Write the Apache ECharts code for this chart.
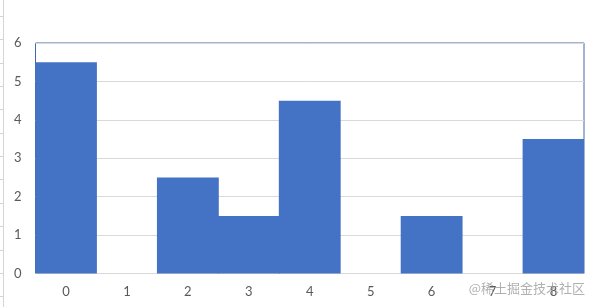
<!DOCTYPE html>
<html>
<head>
<meta charset="utf-8">
<script src="https://cdn.jsdelivr.net/npm/echarts@6/dist/echarts.min.js"></script>
<style>html,body{margin:0;padding:0;background:#fff;}#c{width:595px;height:307px;}</style>
</head>
<body>
<div id="c"></div>
<script>
var categories = ['0','1','2','3','4','5','6','7','8'];
var values = [5.5, 0, 2.5, 1.5, 4.5, 0, 1.5, 0, 3.5];
var yTicks = [0, 1, 2, 3, 4, 5, 6];

var chart = echarts.init(document.getElementById('c'), null, {renderer: 'canvas'});
var font = 'Lato, "Liberation Sans", sans-serif';
var graphics = [
  {type: 'line', shape: {x1: 3.5, y1: 0, x2: 3.5, y2: 307}, style: {stroke: '#d4d4d4', lineWidth: 1}, silent: true}
];
for (var k = 0; k < 13; k++) {
  var yy = Math.round(15.7 + 23.4 * k) + 0.5;
  graphics.push({type: 'line', shape: {x1: 0, y1: yy, x2: 3.5, y2: yy}, style: {stroke: '#d4d4d4', lineWidth: 1}, silent: true});
}
graphics.push({
  type: 'text', right: 10, top: 282, z: 100,
  style: {text: '@稀土掘金技术社区', fill: 'rgba(150,150,150,0.75)', font: '13px "Noto Sans CJK SC", sans-serif'}
});

chart.setOption({
  animation: false,
  grid: {left: 35.5, right: 11, top: 43, bottom: 33.5, show: true, borderColor: '#4269A8', borderWidth: 1, backgroundColor: 'transparent'},
  xAxis: {
    type: 'category', data: categories,
    axisLine: {show: true, lineStyle: {color: '#d9d9d9', width: 1}},
    axisTick: {show: false},
    axisLabel: {color: '#595959', fontSize: 13, fontFamily: font, margin: 12}
  },
  yAxis: {
    type: 'value', min: yTicks[0], max: yTicks[yTicks.length - 1], interval: 1,
    axisLine: {show: false}, axisTick: {show: false},
    axisLabel: {color: '#595959', fontSize: 13, fontFamily: font, margin: 14},
    splitLine: {show: true, lineStyle: {color: '#d9d9d9', width: 1}}
  },
  series: [{
    type: 'bar', data: values, barWidth: '101.5%',
    itemStyle: {color: '#4472C4'}
  }],
  graphic: graphics
});
</script>
</body>
</html>
